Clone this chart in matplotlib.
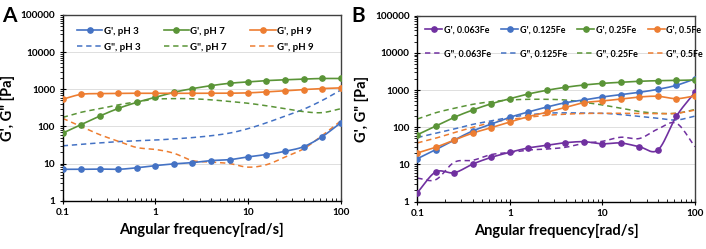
import numpy as np
import matplotlib
matplotlib.use('Agg')
import matplotlib.pyplot as plt
from matplotlib.ticker import LogLocator, FixedLocator, FixedFormatter, NullFormatter

plt.rcParams['font.family'] = ['Lato', 'DejaVu Sans']
plt.rcParams['font.weight'] = 'bold'

# angular frequency [rad/s], 5 points per decade
freq = [0.1, 0.158, 0.251, 0.398, 0.631, 1.0, 1.58, 2.51, 3.98, 6.31,
        10.0, 15.8, 25.1, 39.8, 63.1, 100.0]

# panel A: pH series
gp_ph3 = [7.0, 7.0, 7.1, 7.0, 7.7, 8.8, 9.8, 10.6, 12.0, 12.7, 15.1, 17.4, 21.4, 28.5, 53, 125]
gp_ph7 = [66, 112, 190, 305, 445, 610, 830, 1040, 1250, 1450, 1580, 1710, 1800, 1880, 1950, 1950]
gp_ph9 = [540, 730, 766, 780, 780, 780, 775, 780, 784, 784, 800, 850, 905, 980, 1045, 1090]
gpp_ph3 = [30, 33, 36, 39, 41, 43, 46, 50, 56, 66, 87, 125, 190, 290, 500, 950]
gpp_ph7 = [175, 240, 300, 380, 460, 540, 560, 555, 520, 470, 420, 360, 300, 250, 235, 300]
gpp_ph9 = [165, 100, 60, 40, 27, 24, 19, 12, 11, 10, 8, 9.3, 15, 25, 57, 140]

# panel B: Fe content series
gp_fe063 = [1.75, 6.3, 6.0, 10.3, 15.6, 21.3, 27.8, 32.8, 38.5, 41, 36, 37.8, 30, 24.6, 200, 875]
gp_fe125 = [14.3, 25, 45.6, 80, 122, 186, 258, 351, 458, 542, 653, 754, 872, 1050, 1345, 2000]
gp_fe25 = [63, 108, 186, 292, 430, 588, 785, 988, 1190, 1370, 1515, 1620, 1725, 1790, 1820, 1870]
gp_fe5 = [20.4, 29, 45.6, 70, 98, 139, 193, 253, 345, 458, 509, 576, 653, 681, 588, 700]
gpp_fe063 = [4.3, 3.9, 11.5, 13, 18.5, 21, 24.5, 26, 29, 37, 42, 54, 50, 90, 128, 30]
gpp_fe125 = [53, 69, 90, 120, 148, 186, 215, 240, 245, 242, 238, 220, 195, 175, 157, 200]
gpp_fe25 = [167, 246, 325, 415, 488, 542, 565, 565, 542, 470, 398, 325, 265, 238, 238, 300]
gpp_fe5 = [38, 51, 72, 100, 134, 162, 186, 210, 225, 235, 238, 238, 236, 232, 238, 290]

BLUE = '#4472C4'
ORANGE = '#ED7D31'
GREEN = '#5A9437'
PURPLE = '#7030A0'


def smooth(x, y, n=12):
    """Catmull-Rom curve through the points in log-log space (Excel style smoothed line)."""
    lx = np.log10(x)
    ly = np.log10(y)
    px = np.concatenate([[2 * lx[0] - lx[1]], lx, [2 * lx[-1] - lx[-2]]])
    py = np.concatenate([[2 * ly[0] - ly[1]], ly, [2 * ly[-1] - ly[-2]]])
    xs, ys = [], []
    t = np.linspace(0, 1, n, endpoint=False)
    for i in range(1, len(px) - 2):
        for arr, out in ((px, xs), (py, ys)):
            p0, p1, p2, p3 = arr[i - 1], arr[i], arr[i + 1], arr[i + 2]
            out.extend(0.5 * (2 * p1 + (-p0 + p2) * t + (2 * p0 - 5 * p1 + 4 * p2 - p3) * t ** 2
                              + (-p0 + 3 * p1 - 3 * p2 + p3) * t ** 3))
    xs.append(lx[-1])
    ys.append(ly[-1])
    return 10 ** np.array(xs), 10 ** np.array(ys)


def plot_storage(ax, y, color, label):
    sx, sy = smooth(freq, y)
    ax.plot(sx, sy, color=color, lw=1.2, zorder=3)
    ax.plot(freq, y, 'o', color=color, ms=3.8, zorder=4)
    # proxy for the legend
    ax.plot([], [], '-o', color=color, lw=1.2, ms=3.8, label=label)


def plot_loss(ax, y, color, label):
    sx, sy = smooth(freq, y)
    ax.plot(sx, sy, '--', color=color, lw=1.1, dashes=(3.5, 2.5), label=label, zorder=2)


def style_axes(ax):
    ax.set_xscale('log')
    ax.set_yscale('log')
    ax.set_xlim(0.1, 100)
    ax.set_ylim(1, 100000)
    ax.yaxis.set_major_locator(FixedLocator([1, 10, 100, 1000, 10000, 100000]))
    ax.yaxis.set_major_formatter(FixedFormatter(['1', '10', '100', '1000', '10000', '100000']))
    ax.yaxis.set_minor_locator(LogLocator(base=10, subs=np.arange(2, 10)))
    ax.yaxis.set_minor_formatter(NullFormatter())
    ax.xaxis.set_major_locator(FixedLocator([0.1, 1, 10, 100]))
    ax.xaxis.set_major_formatter(FixedFormatter(['0.1', '1', '10', '100']))
    ax.xaxis.set_minor_locator(LogLocator(base=10, subs=np.arange(2, 10)))
    ax.xaxis.set_minor_formatter(NullFormatter())
    ax.tick_params(axis='both', which='major', direction='inout', length=5, width=0.8,
                   labelsize=7.2, pad=3)
    ax.tick_params(axis='y', which='minor', direction='out', length=2.5, width=0.6)
    ax.tick_params(axis='x', which='minor', direction='in', length=2.5, width=0.6)
    ax.grid(True, which='major', axis='y', color='#d9d9d9', lw=0.6)
    ax.set_axisbelow(True)
    for side in ['left', 'bottom']:
        ax.spines[side].set_color('#000000')
        ax.spines[side].set_linewidth(1.0)
    for side in ['top', 'right']:
        ax.spines[side].set_color('#404040')
        ax.spines[side].set_linewidth(1.0)
    for lab in ax.get_xticklabels() + ax.get_yticklabels():
        lab.set_fontweight('bold')
    ax.set_xlabel('Angular frequency[rad/s]', fontsize=10.5, fontweight='bold', labelpad=4)
    ax.set_ylabel('G\', G" [Pa]', fontsize=10.5, fontweight='bold', labelpad=4)


fig = plt.figure(figsize=(7.06, 2.49), dpi=100)
axA = fig.add_axes([0.0888, 0.194, 0.3938, 0.7458])
axB = fig.add_axes([0.5911, 0.19, 0.3933, 0.747])

# panel A
plot_storage(axA, gp_ph3, BLUE, "G', pH 3")
plot_loss(axA, gpp_ph3, BLUE, 'G", pH 3')
plot_storage(axA, gp_ph7, GREEN, "G', pH 7")
plot_loss(axA, gpp_ph7, GREEN, 'G", pH 7')
plot_storage(axA, gp_ph9, ORANGE, "G', pH 9")
plot_loss(axA, gpp_ph9, ORANGE, 'G", pH 9')
style_axes(axA)
axA.legend(loc='upper left', bbox_to_anchor=(0.02, 0.985), ncol=3, frameon=False,
           handlelength=2.6, columnspacing=2.4, labelspacing=0.75,
           handletextpad=0.15, prop={'weight': 'bold', 'size': 7})

# panel B
plot_storage(axB, gp_fe063, PURPLE, "G', 0.063Fe")
plot_loss(axB, gpp_fe063, PURPLE, 'G", 0.063Fe')
plot_storage(axB, gp_fe125, BLUE, "G', 0.125Fe")
plot_loss(axB, gpp_fe125, BLUE, 'G", 0.125Fe')
plot_storage(axB, gp_fe25, GREEN, "G', 0.25Fe")
plot_loss(axB, gpp_fe25, GREEN, 'G", 0.25Fe')
plot_storage(axB, gp_fe5, ORANGE, "G', 0.5Fe")
plot_loss(axB, gpp_fe5, ORANGE, 'G", 0.5Fe')
style_axes(axB)
axB.legend(loc='upper left', bbox_to_anchor=(0.0, 0.99), ncol=4, frameon=False,
           handlelength=1.9, columnspacing=1.2, labelspacing=1.65,
           handletextpad=0.15, prop={'weight': 'bold', 'size': 6.4})

fig.text(0.003, 0.975, 'A', fontsize=15, fontweight='bold', va='top', ha='left')
fig.text(0.497, 0.975, 'B', fontsize=15, fontweight='bold', va='top', ha='left')

fig.savefig('out.png', dpi=100)
